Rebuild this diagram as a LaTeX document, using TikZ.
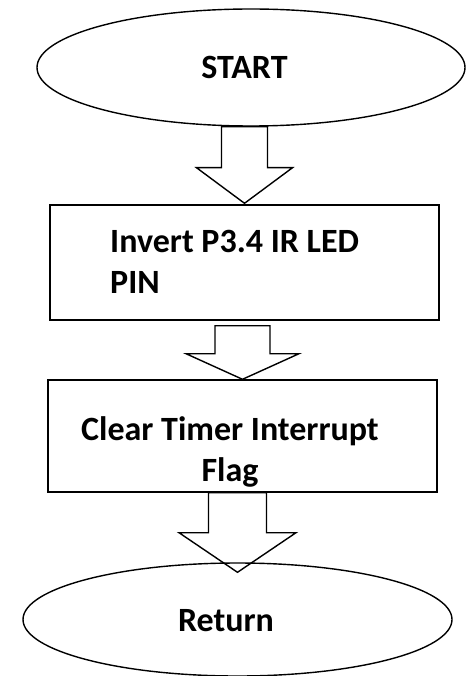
\documentclass[tikz,border=0pt]{standalone}
\usepackage{fontspec}
\setmainfont{Carlito}
\usetikzlibrary{shapes.geometric,calc}

\tikzset{
  shape line/.style={draw=black, line width=1.4pt},
  terminal/.style={shape line, ellipse, inner sep=0pt},
  process/.style={shape line, rectangle, inner sep=0pt, minimum width=389pt, minimum height=115pt},
  flowarrow/.style={draw=black, line width=1.4pt, line join=miter},
  label text/.style={font=\fontsize{34}{41}\selectfont\bfseries, text=black, inner sep=0pt},
}

% hollow block arrow: from, to, top gap, shaft half-width, shaft length, head half-width, tip offset
\newcommand\blockarrow[7]{%
  \draw[flowarrow] let \p1=(#1.south), \p2=(#2.north),
      \n1={\y1-#3pt}, \n2={\y1-#3pt-#5pt}, \n3={\y2+(#7pt)} in
    ({\x2-#4pt},{\n1}) -- ({\x2-#4pt},{\n2}) -- ({\x2-#6pt},{\n2})
    -- ({\x2},{\n3}) -- ({\x2+#6pt},{\n2}) -- ({\x2+#4pt},{\n2})
    -- ({\x2+#4pt},{\n1}) -- cycle;}

\begin{document}
\begin{tikzpicture}[x=1pt,y=-1pt]
  \useasboundingbox (0,0) rectangle (467,676);

  % shapes
  \node[terminal, minimum width=428pt, minimum height=117pt] (start) at (251,67.5) {};
  \node[process] (invert) at (244.5,262.5) {};
  \node[process, minimum height=112pt] (clear) at (242.5,436) {};
  \node[terminal, minimum width=429pt, minimum height=113pt] (return) at (237.5,619.5) {};

  % texts (base anchor sits on the last line)
  \node[label text] (startText) at (244.5,67) {START};
  \node[label text, align=left, anchor=base west] (invertText) at (110,293) {Invert P3.4 IR LED\\PIN};
  \node[label text, align=center, anchor=base] (clearText) at (230,481) {Clear Timer Interrupt\\Flag};
  \node[label text] (returnText) at (226,621) {Return};

  % block arrows
  \blockarrow{start}{invert}{0}{23}{41}{48}{1}
  \blockarrow{invert}{clear}{5}{27.5}{28}{56.5}{0}
  \blockarrow{clear}{return}{0}{29}{40}{58.5}{-10}
\end{tikzpicture}
\end{document}
